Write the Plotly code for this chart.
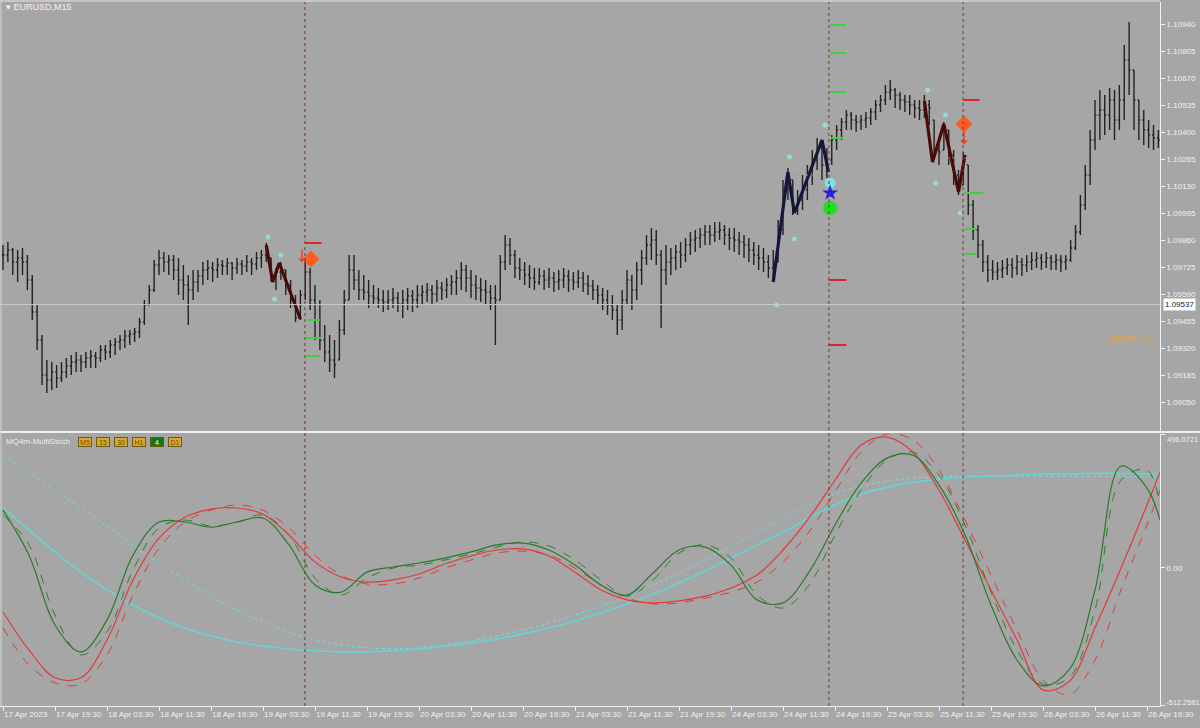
import plotly.graph_objects as go

BG = "#a6a6a6"
AX = "#f2f2f2"

# ---------------- price bars (M15 bar index, every 3rd bar) ----------------
HIGH = [1.09835, 1.09850, 1.09820, 1.09810, 1.09820, 1.09785, 1.09685, 1.09535, 1.09385, 1.09260,
        1.09250, 1.09235, 1.09250, 1.09270, 1.09285, 1.09300, 1.09285, 1.09300, 1.09310, 1.09300,
        1.09335, 1.09335, 1.09360, 1.09370, 1.09385, 1.09410, 1.09410, 1.09420, 1.09470, 1.09560,
        1.09635, 1.09760, 1.09810, 1.09800, 1.09785, 1.09785, 1.09770, 1.09735, 1.09685, 1.09710,
        1.09710, 1.09750, 1.09760, 1.09750, 1.09770, 1.09760, 1.09770, 1.09750, 1.09770, 1.09760,
        1.09785, 1.09770, 1.09800, 1.09810, 1.09845, 1.09770, 1.09720, 1.09750, 1.09710, 1.09660,
        1.09585, 1.09610, 1.09750, 1.09720, 1.09635, 1.09560, 1.09435, 1.09385, 1.09360, 1.09460,
        1.09610, 1.09785, 1.09785, 1.09710, 1.09685, 1.09660, 1.09635, 1.09620, 1.09610, 1.09610,
        1.09620, 1.09600, 1.09610, 1.09620, 1.09610, 1.09635, 1.09635, 1.09645, 1.09635, 1.09660,
        1.09650, 1.09670, 1.09685, 1.09710, 1.09750, 1.09735, 1.09710, 1.09685, 1.09670, 1.09660,
        1.09635, 1.09635, 1.09785, 1.09885, 1.09870, 1.09810, 1.09770, 1.09750, 1.09735, 1.09720,
        1.09720, 1.09710, 1.09720, 1.09700, 1.09710, 1.09720, 1.09710, 1.09700, 1.09710, 1.09700,
        1.09685, 1.09660, 1.09635, 1.09620, 1.09610, 1.09585, 1.09535, 1.09610, 1.09710, 1.09685,
        1.09750, 1.09810, 1.09885, 1.09920, 1.09910, 1.09810, 1.09835, 1.09820, 1.09835, 1.09850,
        1.09870, 1.09900, 1.09910, 1.09920, 1.09935, 1.09935, 1.09950, 1.09950, 1.09935, 1.09920,
        1.09920, 1.09900, 1.09885, 1.09870, 1.09850, 1.09835, 1.09820, 1.09785, 1.09810, 1.09960,
        1.10160, 1.10220, 1.10160, 1.10110, 1.10185, 1.10235, 1.10310, 1.10370, 1.10350, 1.10320,
        1.10385, 1.10435, 1.10470, 1.10510, 1.10500, 1.10485, 1.10485, 1.10500, 1.10520, 1.10560,
        1.10585, 1.10635, 1.10660, 1.10620, 1.10600, 1.10585, 1.10585, 1.10560, 1.10560, 1.10585,
        1.10560, 1.10460, 1.10360, 1.10450, 1.10410, 1.10310, 1.10210, 1.10300, 1.10235, 1.10060,
        1.09935, 1.09860, 1.09785, 1.09760, 1.09750, 1.09760, 1.09770, 1.09770, 1.09785, 1.09770,
        1.09785, 1.09800, 1.09800, 1.09790, 1.09800, 1.09785, 1.09790, 1.09785, 1.09785, 1.09860,
        1.09935, 1.10085, 1.10235, 1.10410, 1.10560, 1.10610, 1.10585, 1.10620, 1.10610, 1.10635,
        1.10835, 1.10950, 1.10710, 1.10560, 1.10510, 1.10460, 1.10435, 1.10410]
LOW = [1.09710, 1.09750, 1.09685, 1.09650, 1.09685, 1.09610, 1.09460, 1.09310, 1.09135, 1.09095,
       1.09110, 1.09120, 1.09150, 1.09170, 1.09185, 1.09200, 1.09200, 1.09220, 1.09220, 1.09220,
       1.09250, 1.09260, 1.09270, 1.09285, 1.09310, 1.09320, 1.09335, 1.09350, 1.09370, 1.09435,
       1.09535, 1.09600, 1.09685, 1.09700, 1.09685, 1.09660, 1.09585, 1.09560, 1.09435, 1.09560,
       1.09600, 1.09635, 1.09660, 1.09650, 1.09670, 1.09685, 1.09685, 1.09660, 1.09690, 1.09685,
       1.09700, 1.09685, 1.09710, 1.09720, 1.09750, 1.09650, 1.09610, 1.09660, 1.09585, 1.09520,
       1.09450, 1.09460, 1.09560, 1.09510, 1.09360, 1.09310, 1.09250, 1.09200, 1.09170, 1.09260,
       1.09385, 1.09560, 1.09610, 1.09560, 1.09560, 1.09520, 1.09535, 1.09520, 1.09500, 1.09510,
       1.09520, 1.09500, 1.09470, 1.09510, 1.09500, 1.09520, 1.09535, 1.09550, 1.09535, 1.09550,
       1.09560, 1.09570, 1.09585, 1.09585, 1.09610, 1.09600, 1.09570, 1.09560, 1.09550, 1.09535,
       1.09510, 1.09335, 1.09560, 1.09710, 1.09735, 1.09670, 1.09660, 1.09635, 1.09620, 1.09610,
       1.09635, 1.09610, 1.09620, 1.09600, 1.09610, 1.09620, 1.09600, 1.09610, 1.09620, 1.09600,
       1.09585, 1.09560, 1.09535, 1.09510, 1.09485, 1.09460, 1.09385, 1.09410, 1.09535, 1.09510,
       1.09560, 1.09635, 1.09735, 1.09760, 1.09735, 1.09420, 1.09635, 1.09685, 1.09710, 1.09720,
       1.09750, 1.09785, 1.09800, 1.09820, 1.09835, 1.09835, 1.09850, 1.09860, 1.09835, 1.09810,
       1.09800, 1.09785, 1.09770, 1.09750, 1.09735, 1.09710, 1.09700, 1.09670, 1.09650, 1.09750,
       1.09885, 1.10060, 1.09985, 1.09985, 1.10010, 1.10060, 1.10135, 1.10210, 1.10160, 1.10170,
       1.10235, 1.10310, 1.10360, 1.10410, 1.10410, 1.10400, 1.10410, 1.10420, 1.10435, 1.10460,
       1.10500, 1.10535, 1.10560, 1.10520, 1.10510, 1.10500, 1.10485, 1.10470, 1.10460, 1.10470,
       1.10435, 1.10260, 1.10235, 1.10310, 1.10235, 1.10135, 1.10085, 1.10135, 1.09985, 1.09860,
       1.09770, 1.09700, 1.09650, 1.09660, 1.09660, 1.09670, 1.09685, 1.09670, 1.09685, 1.09680,
       1.09700, 1.09710, 1.09720, 1.09710, 1.09720, 1.09710, 1.09710, 1.09700, 1.09710, 1.09750,
       1.09810, 1.09885, 1.10010, 1.10135, 1.10310, 1.10360, 1.10385, 1.10410, 1.10360, 1.10410,
       1.10460, 1.10585, 1.10410, 1.10360, 1.10335, 1.10320, 1.10310, 1.10320]
CLOSE = [1.09785, 1.09810, 1.09750, 1.09770, 1.09750, 1.09660, 1.09500, 1.09360, 1.09185, 1.09160,
         1.09200, 1.09170, 1.09200, 1.09230, 1.09250, 1.09260, 1.09250, 1.09270, 1.09280, 1.09270,
         1.09310, 1.09300, 1.09335, 1.09350, 1.09360, 1.09380, 1.09390, 1.09400, 1.09450, 1.09535,
         1.09610, 1.09735, 1.09770, 1.09750, 1.09760, 1.09710, 1.09660, 1.09635, 1.09610, 1.09650,
         1.09680, 1.09710, 1.09720, 1.09710, 1.09735, 1.09730, 1.09745, 1.09720, 1.09740, 1.09730,
         1.09750, 1.09740, 1.09770, 1.09785, 1.09810, 1.09685, 1.09700, 1.09720, 1.09635, 1.09560,
         1.09470, 1.09585, 1.09700, 1.09560, 1.09460, 1.09360, 1.09300, 1.09260, 1.09235, 1.09410,
         1.09560, 1.09710, 1.09660, 1.09610, 1.09600, 1.09580, 1.09570, 1.09560, 1.09550, 1.09560,
         1.09570, 1.09540, 1.09560, 1.09580, 1.09560, 1.09585, 1.09600, 1.09610, 1.09590, 1.09620,
         1.09610, 1.09635, 1.09650, 1.09670, 1.09710, 1.09670, 1.09635, 1.09620, 1.09610, 1.09600,
         1.09570, 1.09560, 1.09750, 1.09835, 1.09785, 1.09720, 1.09710, 1.09685, 1.09670, 1.09650,
         1.09680, 1.09660, 1.09670, 1.09650, 1.09660, 1.09680, 1.09660, 1.09650, 1.09670, 1.09640,
         1.09630, 1.09610, 1.09585, 1.09560, 1.09535, 1.09510, 1.09460, 1.09560, 1.09660, 1.09610,
         1.09710, 1.09770, 1.09835, 1.09860, 1.09785, 1.09710, 1.09750, 1.09770, 1.09800, 1.09785,
         1.09835, 1.09860, 1.09870, 1.09885, 1.09900, 1.09885, 1.09900, 1.09910, 1.09885, 1.09870,
         1.09860, 1.09850, 1.09835, 1.09810, 1.09785, 1.09770, 1.09750, 1.09720, 1.09750, 1.09910,
         1.10110, 1.10170, 1.10035, 1.10060, 1.10110, 1.10185, 1.10260, 1.10320, 1.10235, 1.10260,
         1.10360, 1.10410, 1.10450, 1.10485, 1.10460, 1.10450, 1.10460, 1.10470, 1.10500, 1.10535,
         1.10560, 1.10600, 1.10610, 1.10585, 1.10560, 1.10550, 1.10535, 1.10520, 1.10510, 1.10535,
         1.10520, 1.10310, 1.10300, 1.10420, 1.10285, 1.10185, 1.10120, 1.10260, 1.10035, 1.09910,
         1.09835, 1.09750, 1.09710, 1.09700, 1.09710, 1.09720, 1.09735, 1.09720, 1.09750, 1.09735,
         1.09750, 1.09760, 1.09770, 1.09750, 1.09770, 1.09750, 1.09760, 1.09750, 1.09760, 1.09820,
         1.09900, 1.10035, 1.10185, 1.10360, 1.10485, 1.10510, 1.10485, 1.10560, 1.10460, 1.10560,
         1.10760, 1.10710, 1.10560, 1.10460, 1.10410, 1.10385, 1.10370, 1.10360]
BAR_IDX = list(range(0, 3 * len(CLOSE), 3))

PRICE_TICKS = [1.10940, 1.10805, 1.10670, 1.10535, 1.10400, 1.10265, 1.10130, 1.09995,
               1.09860, 1.09725, 1.09590, 1.09455, 1.09320, 1.09185, 1.09050]
CURRENT_PRICE = 1.09537

TIME_TICKS = list(range(0, 705, 32))
TIME_LABELS = ["17 Apr 2023", "17 Apr 19:30", "18 Apr 03:30", "18 Apr 11:30", "18 Apr 19:30",
               "19 Apr 03:30", "19 Apr 11:30", "19 Apr 19:30", "20 Apr 03:30", "20 Apr 11:30",
               "20 Apr 19:30", "21 Apr 03:30", "21 Apr 11:30", "21 Apr 19:30", "24 Apr 03:30",
               "24 Apr 11:30", "24 Apr 19:30", "25 Apr 03:30", "25 Apr 11:30", "25 Apr 19:30",
               "26 Apr 03:30", "26 Apr 11:30", "26 Apr 19:30"]

# ---------------- zigzags and signals ----------------
ZZ_RED1_X = [162, 166, 170, 183]
ZZ_RED1_Y = [1.09835, 1.09650, 1.09745, 1.09465]
ZZ_BLUE_X = [474, 483, 487, 504, 508]
ZZ_BLUE_Y = [1.09650, 1.10200, 1.09995, 1.10360, 1.10200]
ZZ_RED2_X = [567, 572, 579, 588, 592]
ZZ_RED2_Y = [1.10555, 1.10250, 1.10440, 1.10100, 1.10285]

CYAN_DOT_X = [163, 171, 167, 484, 506, 487, 476, 569, 580, 574, 589]
CYAN_DOT_Y = [1.09875, 1.09785, 1.09565, 1.10275, 1.10435, 1.09865, 1.09535, 1.10610, 1.10485, 1.10145, 1.09995]

DIAMOND_X = [189.5, 591.4]
DIAMOND_Y = [1.09765, 1.10440]
ARROW_X = [184, 591.4]
ARROW_Y = [1.09770, 1.10360]

SIGNAL_X = 509
STAR_Y = 1.10095
GREEN_DOT_Y = 1.10020
CYAN_BIG_Y = 1.10145

RED_LVL_X0 = [186, 508, 508, 591]
RED_LVL_X1 = [196, 519, 519, 601]
RED_LVL_P = [1.09845, 1.09660, 1.09335, 1.10560]
GRN_LVL_X0 = [187, 186, 186, 509, 509, 509, 509, 592, 592, 592]
GRN_LVL_X1 = [195, 196, 195, 519, 519, 519, 517, 603, 599, 599]
GRN_LVL_P = [1.09460, 1.09370, 1.09280, 1.10935, 1.10795, 1.10600, 1.10370, 1.10095, 1.09915, 1.09790]
PINK_LVL_X0 = [486, 577]
PINK_LVL_X1 = [517, 600]
PINK_LVL_P = [1.10185, 1.10270]

VLINE_IDX = [185.8, 508.3, 590.8]

# ---------------- stochastic sub-window ----------------
IND_IDX = list(range(0, 705, 16)) + [712]
GREEN_MAIN = [214, 47, -212, -312, -193, 47, 170, 170, 151, 170, 185, 85, -64, -90, -16, 3, 18, 36, 59, 85,
              92, 66, 10, -64, -101, -19, 66, 77, 10, -119, -130, -16, 159, 314, 407, 418, 307, 122, -138,
              -342, -438, -379, -82, 377, 296, 177]
GREEN_SIG = [196, 85, -175, -323, -238, -8, 148, 177, 155, 170, 196, 122, -38, -101, -38, -1, 10, 29, 51, 77,
             96, 81, 29, -45, -105, -45, 55, 85, 36, -101, -149, -64, 122, 288, 400, 429, 344, 159, -90,
             -305, -431, -408, -156, 325, 363, 233]
RED_MAIN = [-164, -305, -408, -408, -268, -45, 110, 188, 218, 222, 199, 122, 22, -34, -53, -45, -23, 14, 44, 66,
            70, 44, -16, -82, -119, -130, -123, -105, -75, -27, 66, 185, 325, 455, 485, 429, 288, 103, -82,
            -268, -453, -423, -223, -1, 233, 355]
RED_SIG = [-223, -360, -427, -431, -323, -101, 73, 170, 214, 233, 214, 148, 47, -27, -60, -60, -38, -1, 29, 55,
           62, 47, -1, -64, -112, -134, -130, -112, -90, -53, 22, 133, 281, 429, 496, 474, 363, 177, -27,
           -231, -416, -471, -342, -82, 159, 288]
CYAN_MAIN = [222, 140, 59, -16, -82, -138, -186, -223, -253, -275, -290, -301, -308, -312, -312, -308, -301,
             -290, -279, -264, -245, -223, -197, -167, -134, -97, -56, -12, 36, 85, 133, 185, 233, 274, 299,
             318, 329, 337, 340, 344, 348, 348, 351, 351, 348, 348]
CYAN_SIG = [418, 355, 288, 222, 155, 85, 18, -45, -105, -156, -201, -238, -268, -286, -297, -301, -297, -286,
            -271, -253, -231, -205, -175, -142, -105, -64, -19, 29, 81, 133, 185, 233, 274, 303, 322, 333, 337,
            340, 340, 340, 340, 340, 340, 340, 337, 337]
SUB_MAX = 496.0721
SUB_MIN = -512.2581

BUTTON_LABELS = ["M5", "15", "30", "H1", "4", "D1"]
BUTTON_ACTIVE = [False, False, False, False, True, False]

# ---------------- build ----------------
OPEN = []
prev = CLOSE[0]
for h, l, c in zip(HIGH, LOW, CLOSE):
    OPEN.append(min(max(prev, l), h))
    prev = c


def segs(x0s, x1s, ps):
    xs, ys = [], []
    for a, b, p in zip(x0s, x1s, ps):
        xs += [a, b, None]
        ys += [p, p, None]
    return xs, ys


fig = go.Figure()

fig.add_trace(go.Ohlc(x=BAR_IDX, open=OPEN, high=HIGH, low=LOW, close=CLOSE,
                      increasing_line_color="#222222", decreasing_line_color="#222222",
                      line_width=1.4, tickwidth=0.3, xaxis="x", yaxis="y", hoverinfo="skip"))

for xs, ys, col in [(ZZ_RED1_X, ZZ_RED1_Y, "#4a0a0a"), (ZZ_BLUE_X, ZZ_BLUE_Y, "#15153d"),
                    (ZZ_RED2_X, ZZ_RED2_Y, "#4a0a0a")]:
    fig.add_trace(go.Scatter(x=xs, y=ys, mode="lines", line=dict(color=col, width=3.2),
                             xaxis="x", yaxis="y"))

lx, ly = segs(RED_LVL_X0, RED_LVL_X1, RED_LVL_P)
fig.add_trace(go.Scatter(x=lx, y=ly, mode="lines", line=dict(color="#e02424", width=2), xaxis="x", yaxis="y"))
lx, ly = segs(GRN_LVL_X0, GRN_LVL_X1, GRN_LVL_P)
fig.add_trace(go.Scatter(x=lx, y=ly, mode="lines", line=dict(color="#3ed23e", width=2), xaxis="x", yaxis="y"))
lx, ly = segs(PINK_LVL_X0, PINK_LVL_X1, PINK_LVL_P)
fig.add_trace(go.Scatter(x=lx, y=ly, mode="lines", line=dict(color="#c08a8a", width=1, dash="dot"),
                         xaxis="x", yaxis="y"))

fig.add_trace(go.Scatter(x=CYAN_DOT_X, y=CYAN_DOT_Y, mode="markers",
                         marker=dict(color="#8ee4e4", size=5, opacity=0.85), xaxis="x", yaxis="y"))
fig.add_trace(go.Scatter(x=[SIGNAL_X], y=[CYAN_BIG_Y], mode="markers",
                         marker=dict(color="#7fe0e0", size=11), xaxis="x", yaxis="y"))
fig.add_trace(go.Scatter(x=[SIGNAL_X], y=[GREEN_DOT_Y], mode="markers",
                         marker=dict(color="#1ee01e", size=14), xaxis="x", yaxis="y"))
fig.add_trace(go.Scatter(x=[SIGNAL_X], y=[STAR_Y], mode="markers",
                         marker=dict(color="#1e1ee6", size=12, symbol="star"), xaxis="x", yaxis="y"))
fig.add_trace(go.Scatter(x=DIAMOND_X, y=DIAMOND_Y, mode="markers",
                         marker=dict(color="#ff5a23", size=13, symbol="diamond"), xaxis="x", yaxis="y"))
fig.add_trace(go.Scatter(x=ARROW_X, y=ARROW_Y, mode="text", text=["↓"] * len(ARROW_X),
                         textfont=dict(color="#e8461e", size=17, family="DejaVu Sans"),
                         xaxis="x", yaxis="y"))

# sub-window lines
for ys, col, w, dash in [(CYAN_SIG, "#6fdede", 1, "dot"), (CYAN_MAIN, "#62d6d6", 1.6, "solid"),
                         (RED_SIG, "#e23a3a", 1, "dash"), (GREEN_SIG, "#2f7f2f", 1, "dash"),
                         (RED_MAIN, "#e23a3a", 1.2, "solid"), (GREEN_MAIN, "#2a7a2a", 1.2, "solid")]:
    fig.add_trace(go.Scatter(x=IND_IDX, y=ys, mode="lines",
                             line=dict(color=col, width=w, dash=dash, shape="spline", smoothing=1.0),
                             xaxis="x2", yaxis="y2"))

XR = [-1.85, 712.0]
XD = [0, 1160 / 1200]
TOP_DOM = [1 - 431 / 728, 1 - 2 / 728]
BOT_DOM = [1 - 706 / 728, 1 - 434 / 728]

fig.update_layout(
    width=1200, height=728, margin=dict(l=0, r=0, t=0, b=0, autoexpand=False),
    paper_bgcolor=BG, plot_bgcolor=BG, showlegend=False,
    font=dict(family="Liberation Sans", size=9, color=AX),
    xaxis=dict(domain=XD, range=XR, anchor="y", showticklabels=False, ticks="", showgrid=False,
               zeroline=False, showline=False, rangeslider=dict(visible=False), automargin=False),
    xaxis2=dict(domain=XD, range=XR, anchor="y2", matches="x", tickvals=TIME_TICKS, ticktext=TIME_LABELS,
                ticks="outside", ticklen=4, tickcolor=AX, ticklabelposition="outside right", tickangle=0,
                tickfont=dict(size=8, color=AX), showline=True, linecolor=AX, linewidth=1,
                showgrid=False, zeroline=False, rangeslider=dict(visible=False), automargin=False,
                ticklabeloverflow="allow"),
    yaxis=dict(domain=TOP_DOM, range=[1.08905, 1.11050], side="right", anchor="x", tickvals=PRICE_TICKS,
               tickformat=".5f", ticks="outside", ticklen=4, tickcolor=AX, tickfont=dict(size=8, color=AX),
               showline=True, linecolor=AX, showgrid=False, zeroline=False, automargin=False),
    yaxis2=dict(domain=BOT_DOM, range=[SUB_MIN - 0.5, SUB_MAX + 0.5], side="right", anchor="x2",
                tickvals=[SUB_MAX, 0, SUB_MIN], ticktext=["", "0.00", ""],
                ticks="outside", ticklen=4, tickcolor=AX, tickfont=dict(size=8, color=AX),
                showline=True, linecolor=AX, showgrid=False, zeroline=False, automargin=False),
)

shapes = []
shapes.append(dict(type="line", xref="paper", yref="y", x0=0, x1=XD[1], y0=CURRENT_PRICE, y1=CURRENT_PRICE,
                   line=dict(color="#c9c9c9", width=1)))
for v in VLINE_IDX:
    shapes.append(dict(type="line", xref="x", yref="paper", x0=v, x1=v, y0=BOT_DOM[0], y1=TOP_DOM[1],
                       line=dict(color="#7c3626", width=1, dash="dot")))
shapes.append(dict(type="line", xref="paper", yref="paper", x0=0, x1=1, y0=1 - 432 / 728, y1=1 - 432 / 728,
                   line=dict(color="#eeeeee", width=2)))
shapes.append(dict(type="line", xref="paper", yref="paper", x0=0, x1=XD[1], y0=1 - 1 / 728, y1=1 - 1 / 728,
                   line=dict(color="#e6e6e6", width=1)))
shapes.append(dict(type="line", xref="paper", yref="paper", x0=1 / 1200, x1=1 / 1200, y0=BOT_DOM[0], y1=1,
                   line=dict(color="#d6d6d6", width=1)))
fig.update_layout(shapes=shapes)

ann = []
ann.append(dict(xref="paper", yref="paper", x=4 / 1200, y=1 - 7 / 728, xanchor="left", yanchor="middle",
                text="▾ EURUSD,M15", showarrow=False, font=dict(size=9, color="#f4f4f4")))
ann.append(dict(xref="paper", yref="y", x=1163 / 1200, y=CURRENT_PRICE, xanchor="left", yanchor="middle",
                text="1.09537", showarrow=False, bgcolor="#ffffff", borderpad=1,
                font=dict(size=8, color="#222222")))
ann.append(dict(xref="paper", yref="paper", x=1130 / 1200, y=1 - 338 / 728, xanchor="center", yanchor="middle",
                text="Spread: 0.2", showarrow=False, font=dict(size=9, color="#e6a046")))
ann.append(dict(xref="paper", yref="paper", x=4 / 1200, y=1 - 442 / 728, xanchor="left", yanchor="middle",
                text="MQ4m-MultiStoch", showarrow=False, font=dict(size=8, color="#eeeeee")))
# sub-window max / min labels (drawn just inside the window edges, as the terminal does)
ann.append(dict(xref="paper", yref="paper", x=1165 / 1200, y=1 - 439 / 728, xanchor="left", yanchor="middle",
                text=f"{SUB_MAX:.4f}", showarrow=False, font=dict(size=7.5, color=AX)))
ann.append(dict(xref="paper", yref="paper", x=1164 / 1200, y=1 - 702 / 728, xanchor="left", yanchor="middle",
                text=f"{SUB_MIN:.4f}", showarrow=False, font=dict(size=7.5, color=AX)))
bx = 78
for lab, act in zip(BUTTON_LABELS, BUTTON_ACTIVE):
    ann.append(dict(xref="paper", yref="paper", x=bx / 1200, y=1 - 442 / 728, xanchor="left", yanchor="middle",
                    text=lab, showarrow=False, width=12, height=8,
                    bgcolor="#0d7a12" if act else "#d9a92c", bordercolor="#6b5a14", borderwidth=1, borderpad=0,
                    font=dict(size=7, color="#ffffff" if act else "#6b4a08")))
    bx += 18
fig.update_layout(annotations=ann)

fig.write_html("out.html", config={"displayModeBar": False},
               post_script="document.body.style.margin='0';document.body.style.overflow='hidden';")
